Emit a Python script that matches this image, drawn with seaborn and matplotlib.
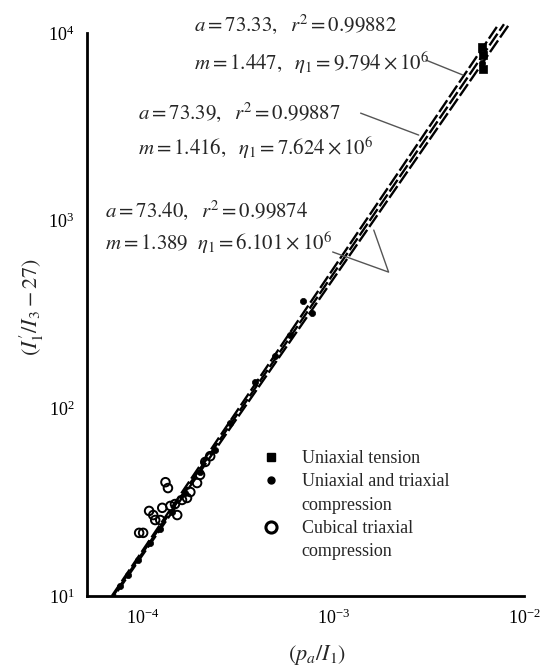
import numpy as np
import pandas as pd
import matplotlib
matplotlib.use("Agg")
import matplotlib.pyplot as plt
from matplotlib.ticker import NullLocator, LogFormatterMathtext
from matplotlib.lines import Line2D
import seaborn as sns

sns.set_theme(style="white")
plt.rcParams["font.family"] = ["Liberation Serif", "DejaVu Serif"]
plt.rcParams["mathtext.fontset"] = "stix"

# ---------------- data ----------------
tension_x = [6.0e-3, 6.06e-3, 6.06e-3]
tension_y = [8410, 7620, 6430]

compr_x = [7.57e-5, 8.34e-5, 9.42e-5, 1.088e-4, 1.228e-4, 1.42e-4, 1.66e-4,
           2.0e-4, 2.39e-4, 2.87e-4, 3.89e-4, 4.95e-4, 5.94e-4, 6.87e-4,
           7.74e-4, 6.0e-3]
compr_y = [11.3, 12.9, 15.6, 19.1, 22.7, 28.0, 35.4,
           45.8, 60.0, 83.6, 138, 190, 246, 373,
           322, 6920]

cubic_x = [1.31e-4, 1.35e-4, 1.075e-4, 0.953e-4, 1.0e-4, 1.26e-4, 1.157e-4,
           1.23e-4, 1.51e-4, 1.39e-4, 1.47e-4, 1.60e-4, 1.70e-4, 1.77e-4,
           1.92e-4, 1.99e-4, 2.12e-4, 2.25e-4, 1.13e-4]
cubic_y = [40.4, 37.6, 28.4, 21.7, 21.7, 29.5, 25.4,
           25.4, 27.0, 30.2, 30.9, 32.5, 33.3, 35.8,
           40.0, 44.2, 51.8, 55.6, 27.0]

# fitted lines (end points)
fit_names = ["fit1", "fit2", "fit3"]
fit_x0 = [6.85e-5, 6.95e-5, 7.05e-5]
fit_y0 = [10, 10, 10]
fit_x1 = [7.25e-3, 7.85e-3, 8.45e-3]
fit_y1 = [10890, 11140, 11300]

# annotation texts
ann_line1 = [r"$a = 73.33,\ \ r^2 = 0.99882$",
             r"$a = 73.39,\ \ r^2 = 0.99887$",
             r"$a = 73.40,\ \ r^2 = 0.99874$"]
ann_line2 = [r"$m = 1.447,\ \ \eta_1 = 9.794\times10^6$",
             r"$m = 1.416,\ \ \eta_1 = 7.624\times10^6$",
             r"$m = 1.389\ \ \eta_1 = 6.101\times10^6$"]

# pointer lines
ptr1_x = [3.05e-3, 4.78e-3]
ptr1_y = [7178, 5970]
ptr2_x = [1.387e-3, 2.80e-3]
ptr2_y = [3741, 2858]
ptr3_x = [9.89e-4, 1.945e-3, 1.626e-3]
ptr3_y = [681, 532, 891]

xticks = [1e-4, 1e-3, 1e-2]
yticks = [1e1, 1e2, 1e3, 1e4]

legend_labels = ["Uniaxial tension", "Uniaxial and triaxial", "compression",
                 "Cubical triaxial", "compression"]

# ---------------- figure ----------------
W, H = 547, 671
fig = plt.figure(figsize=(W / 100, H / 100), dpi=100)
L, R, B, T = 87, 524, 596, 33
ax = fig.add_axes([L / W, 1 - B / H, (R - L) / W, (B - T) / H])
ax.set_xscale("log")
ax.set_yscale("log")
ax.set_xlim(10 ** (-4 - (143 - 87) / 190), 1e-2)
ax.set_ylim(10, 1e4)

# fitted lines
dash_styles = [(0, (6, 1.5)), (2.5, (6, 1.5)), (5, (6, 1.5))]
for i, name in enumerate(fit_names):
    df_line = pd.DataFrame({"x": [fit_x0[i], fit_x1[i]], "y": [fit_y0[i], fit_y1[i]]})
    sns.lineplot(data=df_line, x="x", y="y", ax=ax, color="black", lw=1.7,
                 linestyle=dash_styles[i], clip_on=False, estimator=None, sort=False)

# points
df_t = pd.DataFrame({"x": tension_x, "y": tension_y})
df_c = pd.DataFrame({"x": compr_x, "y": compr_y})
df_o = pd.DataFrame({"x": cubic_x, "y": cubic_y})
sns.scatterplot(data=df_o, x="x", y="y", ax=ax, marker="o", s=38,
                facecolor="none", edgecolor="black", linewidth=1.4, zorder=3)
sns.scatterplot(data=df_c, x="x", y="y", ax=ax, marker="o", s=20,
                color="black", edgecolor="black", linewidth=0.5, zorder=4)
sns.scatterplot(data=df_t, x="x", y="y", ax=ax, marker="s", s=28,
                color="black", edgecolor="black", linewidth=0.5, zorder=4)

# pointer lines
for px, py in [(ptr1_x, ptr1_y), (ptr2_x, ptr2_y), (ptr3_x, ptr3_y)]:
    ax.plot(px, py, color="#555555", lw=1.0, clip_on=False, zorder=2)

# annotation text (axes coords)
ann_pos = [((194 - L) / (R - L), (B - 24) / (B - T), (B - 63) / (B - T)),
           ((138 - L) / (R - L), (B - 112) / (B - T), (B - 148) / (B - T)),
           ((105 - L) / (R - L), (B - 210) / (B - T), (B - 243) / (B - T))]
for (xa, y1, y2), t1, t2 in zip(ann_pos, ann_line1, ann_line2):
    ax.text(xa, y1, t1, transform=ax.transAxes, fontsize=15, va="center", ha="left")
    ax.text(xa, y2, t2, transform=ax.transAxes, fontsize=15, va="center", ha="left")

# axes styling
sns.despine(ax=ax)
for sp in ["left", "bottom"]:
    ax.spines[sp].set_linewidth(2.0)
    ax.spines[sp].set_color("black")
ax.set_xticks(xticks)
ax.set_yticks(yticks)
ax.xaxis.set_major_formatter(LogFormatterMathtext())
ax.yaxis.set_major_formatter(LogFormatterMathtext())
ax.xaxis.set_minor_locator(NullLocator())
ax.yaxis.set_minor_locator(NullLocator())
ax.tick_params(axis="both", which="major", direction="in", length=13, width=1.6,
               color="black", labelsize=13, labelcolor="black")
ax.tick_params(axis="x", pad=9)
ax.tick_params(axis="y", pad=9)

ax.set_xlabel(r"$(p_a/I_1)$", fontsize=16)
ax.set_ylabel(r"$(I_1^{\prime}/I_3-27)$", fontsize=16)
ax.xaxis.set_label_coords((317 - L) / (R - L), (B - 655) / (B - T))
ax.yaxis.set_label_coords((32 - L) / (R - L), (B - 307) / (B - T))
ax.xaxis.label.set_verticalalignment("center")
ax.yaxis.label.set_verticalalignment("center")

# legend
handles = [
    Line2D([], [], ls="none", marker="s", color="black", markersize=6),
    Line2D([], [], ls="none", marker="o", color="black", markersize=5),
    Line2D([], [], ls="none", marker=None),
    Line2D([], [], ls="none", marker="o", markerfacecolor="none",
           markeredgecolor="black", markeredgewidth=2.2, markersize=8),
    Line2D([], [], ls="none", marker=None),
]
leg = ax.legend(handles, legend_labels, loc="upper left",
                bbox_to_anchor=((262 - L) / (R - L), (B - 450) / (B - T)),
                frameon=False, fontsize=13, handlelength=1.0, handletextpad=1.2,
                labelspacing=0.35, borderpad=0, borderaxespad=0)

fig.savefig("out.png", dpi=100)
